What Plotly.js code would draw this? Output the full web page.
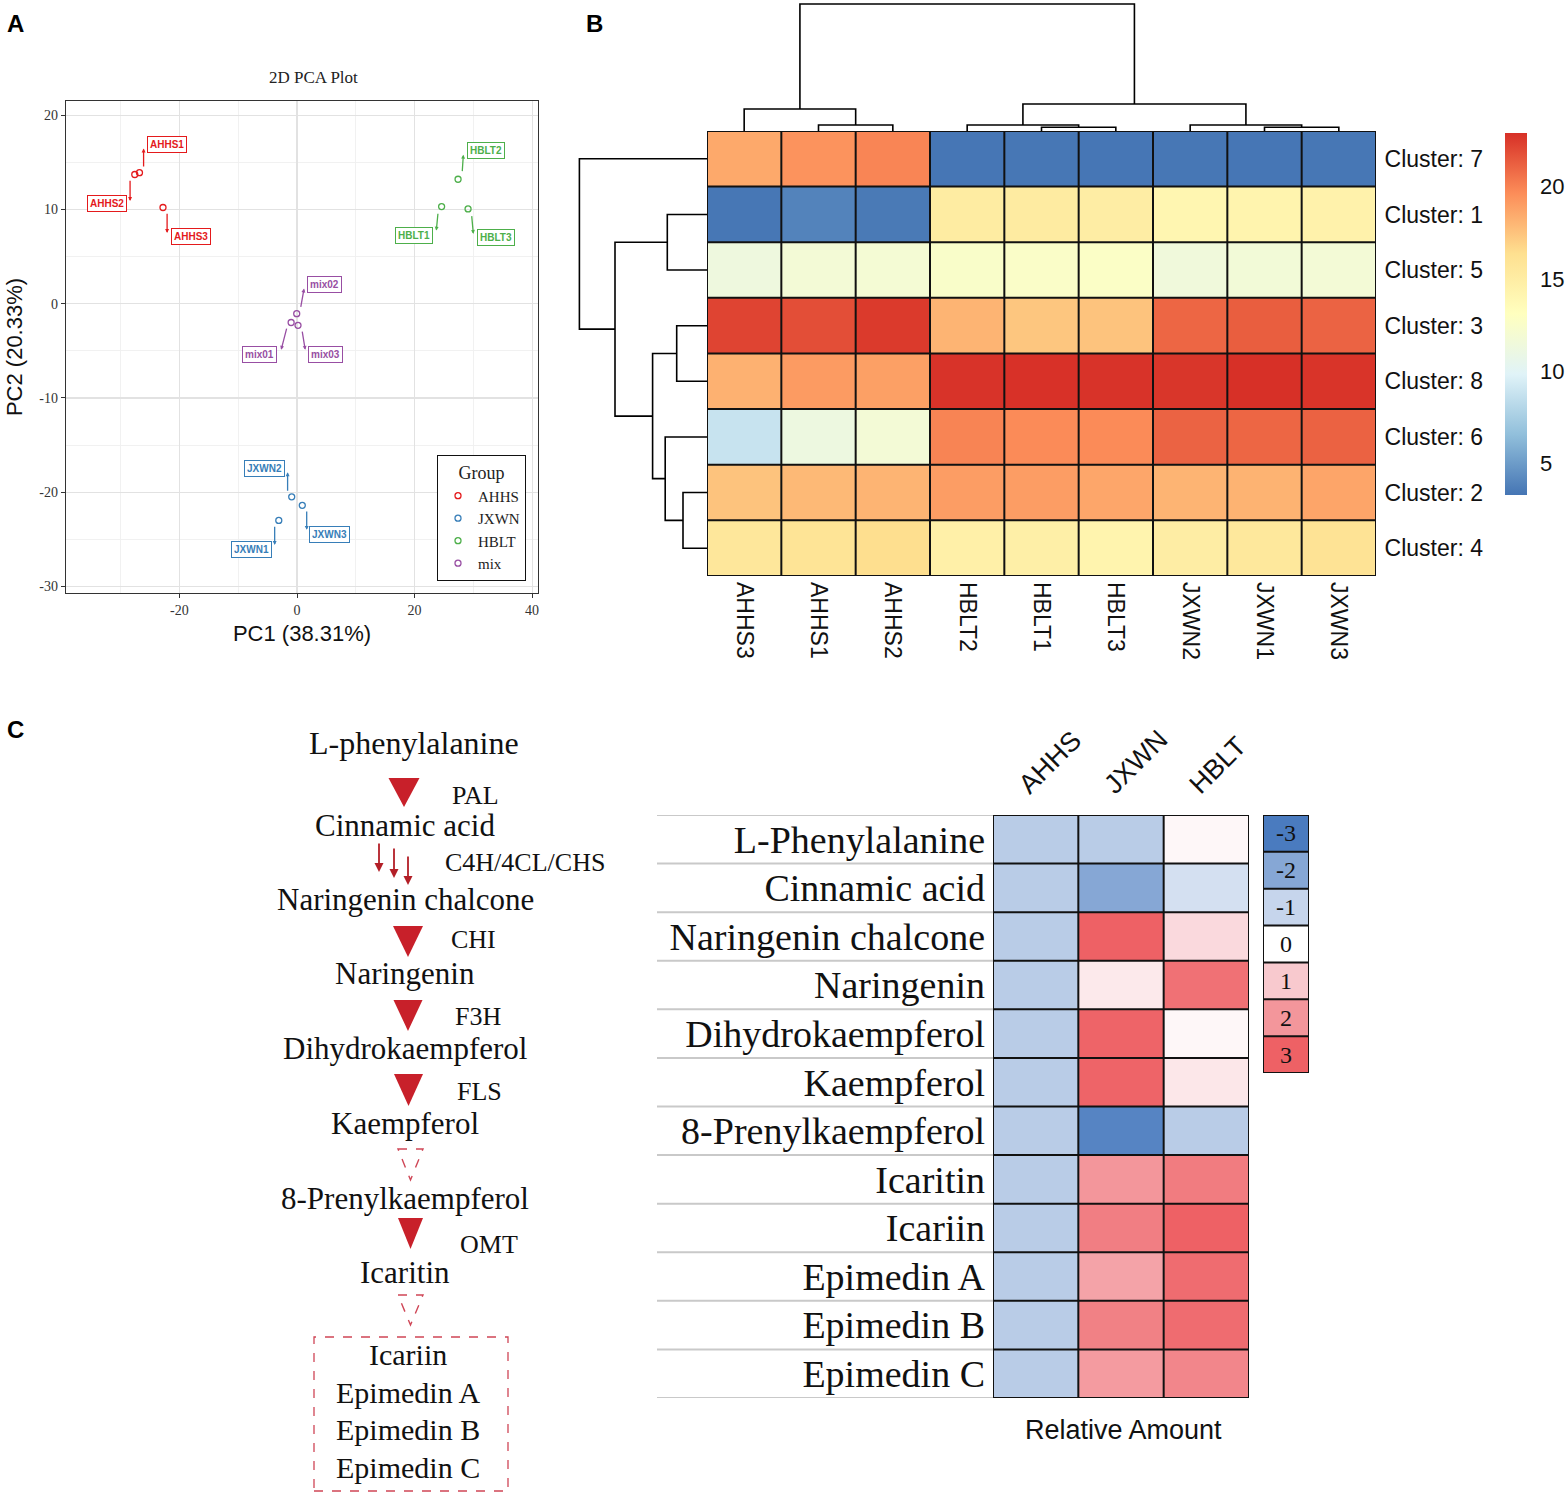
<!DOCTYPE html>
<html><head><meta charset="utf-8">
<script src="https://cdn.plot.ly/plotly-3.0.1.min.js"></script>
<style>html,body{margin:0;padding:0;background:#fff}#fig{width:1568px;height:1502px}</style>
</head><body><div id="fig"></div>
<script>
// ---------------- DATA ----------------
// Panel A: PCA scores
const pcaSamples = ['AHHS1','AHHS2','AHHS3','JXWN1','JXWN2','JXWN3','HBLT1','HBLT2','HBLT3','mix01','mix02','mix03'];
const pcaGroup   = ['AHHS','AHHS','AHHS','JXWN','JXWN','JXWN','HBLT','HBLT','HBLT','mix','mix','mix'];
const pc1 = [-26.8, -27.6, -22.8, -3.1, -0.9, 0.9, 24.6, 27.4, 29.1, -1.0, -0.05, 0.17];
const pc2 = [13.9, 13.7, 10.2, -23.0, -20.5, -21.4, 10.3, 13.2, 10.05, -2.0, -1.06, -2.3];
const groupNames  = ['AHHS','JXWN','HBLT','mix'];
const groupColors = ['#E41A1C','#377EB8','#4DAF4A','#984EA3'];
const pcaXTicks = [-20, 0, 20, 40];
const pcaYTicks = [20, 10, 0, -10, -20, -30];

// Panel B: cluster heatmap
const clusterSamples = ['AHHS3','AHHS1','AHHS2','HBLT2','HBLT1','HBLT3','JXWN2','JXWN1','JXWN3'];
const clusterLabels  = ['Cluster: 7','Cluster: 1','Cluster: 5','Cluster: 3','Cluster: 8','Cluster: 6','Cluster: 2','Cluster: 4'];
const cluster7 = [18.55, 19.4, 19.9, 3.35, 3.4, 3.35, 3.4, 3.35, 3.4];
const cluster1 = [3.4, 3.9, 3.5, 15.1, 15.2, 15.0, 14.1, 14.3, 14.5];
const cluster5 = [11.3, 11.8, 11.9, 12.5, 12.6, 12.7, 11.5, 11.7, 11.8];
const cluster3 = [22.2, 21.85, 22.55, 18.1, 17.4, 17.5, 21.0, 21.3, 21.1];
const cluster8 = [18.2, 19.1, 18.9, 22.8, 22.85, 22.8, 22.7, 22.9, 22.75];
const cluster6 = [8.8, 11.2, 11.8, 19.95, 19.7, 19.7, 21.1, 21.0, 21.15];
const cluster2 = [17.5, 17.9, 18.1, 19.0, 19.0, 18.65, 18.1, 18.15, 18.7];
const cluster4 = [15.6, 15.95, 16.4, 14.7, 14.75, 14.3, 15.0, 15.5, 16.0];
const clusterTicks = [5, 10, 15, 20];
// hclust-style merges (negative = leaf, 1-based; positive = earlier merge) and heights
const colMerge  = [[-2,-3],[-5,-6],[-8,-9],[-1,1],[-4,2],[-7,3],[5,6],[4,7]];
const colHeight = [6, 3.7, 3.7, 22, 6, 6, 27, 127];
const rowMerge  = [[-2,-3],[-4,-5],[-7,-8],[-6,3],[2,4],[1,5],[-1,6]];
const rowHeight = [39.7, 30.3, 24, 41.8, 54.4, 92, 127.6];

// Panel C: relative amount heatmap
const regions = ['AHHS','JXWN','HBLT'];
const metabolites = ['L-Phenylalanine','Cinnamic acid','Naringenin chalcone','Naringenin','Dihydrokaempferol','Kaempferol','8-Prenylkaempferol','Icaritin','Icariin','Epimedin A','Epimedin B','Epimedin C'];
const relAHHS = [-1.2,-1.2,-1.2,-1.2,-1.2,-1.2,-1.2,-1.2,-1.2,-1.2,-1.2,-1.2];
const relJXWN = [-1.2,-2.0,3.0,0.4,2.95,2.95,-2.8,2.0,2.45,1.75,2.4,1.9];
const relHBLT = [0.15,-0.75,0.7,2.7,0.15,0.45,-1.2,2.5,3.0,2.8,2.8,2.3];
const relLegend = [-3,-2,-1,0,1,2,3];

// Pathway text
const compounds = ['L-phenylalanine','Cinnamic acid','Naringenin chalcone','Naringenin','Dihydrokaempferol','Kaempferol','8-Prenylkaempferol','Icaritin'];
const enzymes = ['PAL','C4H/4CL/CHS','CHI','F3H','FLS','OMT'];
const endProducts = ['Icariin','Epimedin A','Epimedin B','Epimedin C'];

// ---------------- LAYOUT HELPERS ----------------
const W = 1568, H = 1502;
const X = p => p / W;
const Y = p => 1 - p / H;
const SERIF = 'Liberation Serif, Times New Roman, serif';
const SANS = 'Liberation Sans, Arial, Helvetica, sans-serif';

const traces = [];
const shapes = [];
const annotations = [];
function paperText(px, py, text, font, xanchor) {
  annotations.push({xref: 'paper', yref: 'paper', x: X(px), y: Y(py), text: text, showarrow: false,
    xanchor: xanchor || 'center', yanchor: 'middle', font: font});
}

// ---------------- PANEL A ----------------
groupNames.forEach((g, gi) => {
  const idx = pcaGroup.map((v, i) => v === g ? i : -1).filter(i => i >= 0);
  traces.push({
    type: 'scatter', mode: 'markers', name: g, xaxis: 'x', yaxis: 'y',
    x: idx.map(i => pc1[i]), y: idx.map(i => pc2[i]), text: idx.map(i => pcaSamples[i]),
    marker: {symbol: 'circle-open', size: 6, color: groupColors[gi], line: {width: 1.3, color: groupColors[gi]}},
    hoverinfo: 'text', showlegend: true
  });
});
// label placement (data units) and connector segments [x0,y0,x1,y1]
const labelPos = {
  AHHS1: [-22.1, 16.9], AHHS2: [-32.3, 10.6], AHHS3: [-18.0, 7.1],
  HBLT2: [32.1, 16.2], HBLT1: [19.9, 7.25], HBLT3: [33.8, 7.0],
  mix02: [4.7, 2.0], mix01: [-6.4, -5.4], mix03: [4.9, -5.4],
  JXWN2: [-5.6, -17.5], JXWN3: [5.6, -24.5], JXWN1: [-7.8, -26.1]
};
const segPos = {
  AHHS1: [-26.1, 14.4, -26.1, 16.45], AHHS2: [-28.4, 13.2, -28.4, 10.9], AHHS3: [-22.1, 9.7, -22.1, 7.5],
  HBLT2: [28.1, 13.9, 28.3, 15.8], HBLT1: [24.0, 9.7, 23.7, 7.75], HBLT3: [29.7, 9.45, 30.0, 7.4],
  mix02: [0.6, -0.5, 1.2, 1.6], mix01: [-1.7, -2.5, -2.7, -4.9], mix03: [0.85, -2.8, 1.4, -4.9],
  JXWN2: [-1.6, -20.0, -1.6, -17.9], JXWN3: [1.65, -21.9, 1.65, -24.0], JXWN1: [-3.8, -23.5, -3.8, -25.6]
};
pcaSamples.forEach((s, i) => {
  const col = groupColors[groupNames.indexOf(pcaGroup[i])];
  const sg = segPos[s];
  annotations.push({xref: 'x', yref: 'y', axref: 'x', ayref: 'y', x: sg[2], y: sg[3], ax: sg[0], ay: sg[1],
    text: '', showarrow: true, arrowhead: 2, arrowsize: 0.6, arrowwidth: 1.3, arrowcolor: col});
  annotations.push({xref: 'x', yref: 'y', x: labelPos[s][0], y: labelPos[s][1], text: s, showarrow: false,
    xanchor: 'center', yanchor: 'middle',
    font: {family: SANS, size: 10, color: col, weight: 'bold'}, bgcolor: '#fff', bordercolor: col,
    borderwidth: 1, borderpad: 2});
});
paperText(313, 77, '2D PCA Plot', {family: SERIF, size: 17, color: '#222'});

// ---------------- PANEL B ----------------
const clusterZ = [cluster7, cluster1, cluster5, cluster3, cluster8, cluster6, cluster2, cluster4];
const rdylbu = ['#4575B4','#91BFDB','#E0F3F8','#FFFFBF','#FEE090','#FC8D59','#D73027'];
traces.push({
  type: 'heatmap', xaxis: 'x2', yaxis: 'y2', showlegend: false,
  x: clusterSamples.map((_, i) => i), y: clusterLabels.map((_, i) => i), z: clusterZ,
  zmin: 3.3, zmax: 22.9,
  colorscale: rdylbu.map((c, i) => [i / (rdylbu.length - 1), c]),
  showscale: true, hoverinfo: 'z',
  colorbar: {x: X(1505), xanchor: 'left', xpad: 0, y: Y(133), yanchor: 'top', ypad: 0,
    len: 362, lenmode: 'pixels', thickness: 22, thicknessmode: 'pixels', outlinewidth: 0,
    tickvals: clusterTicks, ticktext: clusterTicks.map(String), ticks: 'outside', ticklen: 9,
    tickcolor: 'rgba(0,0,0,0)', tickfont: {family: SANS, size: 22, color: '#111'}}
});
function buildDendro(merge, height) {
  const pos = [], xs = [], hs = [];
  merge.forEach((m, k) => {
    const p = m.map(c => c < 0 ? -c - 1 : pos[c - 1]);
    const hh = m.map(c => c < 0 ? 0 : height[c - 1]);
    xs.push(p[0], p[0], p[1], p[1], null);
    hs.push(hh[0], height[k], height[k], hh[1], null);
    pos[k] = (p[0] + p[1]) / 2;
  });
  return {pos: xs, h: hs};
}
const colD = buildDendro(colMerge, colHeight);
const rowD = buildDendro(rowMerge, rowHeight);
traces.push({type: 'scatter', mode: 'lines', xaxis: 'x3', yaxis: 'y3', x: colD.pos, y: colD.h,
  line: {color: '#000', width: 1.6}, hoverinfo: 'skip', showlegend: false});
traces.push({type: 'scatter', mode: 'lines', xaxis: 'x4', yaxis: 'y4', x: rowD.h, y: rowD.pos,
  line: {color: '#000', width: 1.6}, hoverinfo: 'skip', showlegend: false});
for (let i = 0; i <= clusterSamples.length; i++)
  shapes.push({type: 'line', xref: 'x2', yref: 'y2', x0: i - 0.5, x1: i - 0.5, y0: -0.5, y1: clusterLabels.length - 0.5, line: {color: '#111', width: 2}});
for (let j = 0; j <= clusterLabels.length; j++)
  shapes.push({type: 'line', xref: 'x2', yref: 'y2', x0: -0.5, x1: clusterSamples.length - 0.5, y0: j - 0.5, y1: j - 0.5, line: {color: '#111', width: 2}});

// ---------------- PANEL C ----------------
const relStops = ['#4A7BBF','#86A7D5','#C6D5EC','#FFFFFF','#F8C9CE','#F3969B','#EE6165'];
const relScale = relStops.map((c, i) => [i / (relStops.length - 1), c]);
traces.push({
  type: 'heatmap', xaxis: 'x5', yaxis: 'y5', showlegend: false,
  x: regions.map((_, i) => i), y: metabolites.map((_, i) => i),
  z: metabolites.map((_, r) => [relAHHS[r], relJXWN[r], relHBLT[r]]),
  zmin: -3, zmax: 3, colorscale: relScale, showscale: false, hoverinfo: 'z'
});
traces.push({
  type: 'heatmap', xaxis: 'x6', yaxis: 'y6', showlegend: false, x: [0], y: relLegend.map((_, i) => i),
  z: relLegend.map(v => [v]), text: relLegend.map(v => [String(v)]), texttemplate: '%{text}',
  textfont: {family: SERIF, size: 24, color: '#111'},
  zmin: -3, zmax: 3, colorscale: relScale, showscale: false, hoverinfo: 'skip'
});
for (let j = 0; j <= metabolites.length; j++) {
  shapes.push({type: 'line', xref: 'paper', yref: 'y5', x0: X(657), x1: X(993), y0: j - 0.5, y1: j - 0.5, line: {color: '#C9C9C9', width: 2}});
  shapes.push({type: 'line', xref: 'x5', yref: 'y5', x0: -0.5, x1: regions.length - 0.5, y0: j - 0.5, y1: j - 0.5, line: {color: '#111', width: 2}});
}
for (let i = 0; i <= regions.length; i++)
  shapes.push({type: 'line', xref: 'x5', yref: 'y5', x0: i - 0.5, x1: i - 0.5, y0: -0.5, y1: metabolites.length - 0.5, line: {color: '#111', width: 2}});
for (let j = 0; j <= relLegend.length; j++)
  shapes.push({type: 'line', xref: 'x6', yref: 'y6', x0: -0.5, x1: 0.5, y0: j - 0.5, y1: j - 0.5, line: {color: '#111', width: 2}});
[-0.5, 0.5].forEach(xv => shapes.push({type: 'line', xref: 'x6', yref: 'y6', x0: xv, x1: xv, y0: -0.5, y1: relLegend.length - 0.5, line: {color: '#111', width: 2}}));
paperText(1123, 1430, 'Relative Amount', {family: SANS, size: 27, color: '#111'});

// Pathway (panel C, left)
const compoundPos = [[414, 743, 32], [405, 825, 31], [405, 899, 31], [405, 973, 31], [405, 1048, 31], [405, 1123, 31], [405, 1198, 31], [405, 1272, 31]];
compounds.forEach((c, i) => paperText(compoundPos[i][0], compoundPos[i][1], c, {family: SERIF, size: compoundPos[i][2], color: '#111'}));
const enzymePos = [[450, 795], [443, 862], [449, 940], [453, 1016], [455, 1091], [458, 1244]];
enzymes.forEach((e, i) => paperText(enzymePos[i][0], enzymePos[i][1], e, {family: SERIF, size: 26, color: '#111'}, 'left'));
const endPos = [1354, 1392, 1429, 1467];
endProducts.forEach((e, i) => paperText(408, endPos[i], e, {family: SERIF, size: 30, color: '#111'}));
// triangles: [cx, top, width, height, filled]
const tris = [[404, 778, 31, 29, true], [408, 926, 30, 31, true], [408, 1000, 29, 31, true], [408.5, 1074, 29, 32, true],
  [410.5, 1149, 25, 31, false], [410.5, 1218, 25, 31, true], [410.5, 1295, 25, 30, false]];
tris.forEach(t => {
  const [cx, top, w, h, filled] = t;
  shapes.push({type: 'path', xref: 'paper', yref: 'paper',
    path: `M ${X(cx - w / 2)} ${Y(top)} L ${X(cx + w / 2)} ${Y(top)} L ${X(cx)} ${Y(top + h)} Z`,
    fillcolor: filled ? '#C8202A' : 'rgba(0,0,0,0)',
    line: filled ? {width: 0} : {color: '#CF4656', width: 1.4, dash: 'dash'}});
});
[[379, 872, 30], [394, 878, 31], [408, 885, 30]].forEach(a => annotations.push({xref: 'paper', yref: 'paper',
  x: X(a[0]), y: Y(a[1]), ax: 0, ay: -a[2], text: '', showarrow: true, arrowhead: 2, arrowsize: 1, arrowwidth: 1.8, arrowcolor: '#B31F27'}));
shapes.push({type: 'rect', xref: 'paper', yref: 'paper', x0: X(314), x1: X(508), y0: Y(1491), y1: Y(1337),
  line: {color: '#CF4656', width: 1.3, dash: 'dash'}, fillcolor: 'rgba(0,0,0,0)'});

// Panel letters
[['A', 16, 24], ['B', 594, 24], ['C', 16, 730]].forEach(p => paperText(p[1], p[2], p[0], {family: SANS, size: 24, color: '#000', weight: 'bold'}));

// ---------------- LAYOUT ----------------
const hidden = {visible: false, showgrid: false, zeroline: false, fixedrange: true};
const layout = {
  width: W, height: H, margin: {l: 0, r: 0, t: 0, b: 0},
  paper_bgcolor: '#fff', plot_bgcolor: '#fff', showlegend: true,
  xaxis: {domain: [X(66), X(538)], range: [-39.3, 41.0], anchor: 'y',
    tickvals: pcaXTicks, ticktext: pcaXTicks.map(String), tickfont: {family: SERIF, size: 14, color: '#333'},
    ticks: 'outside', ticklen: 4, tickcolor: '#333', showgrid: true, gridcolor: '#E2E2E2', gridwidth: 1.2,
    minor: {dtick: 10, tick0: 0, showgrid: true, gridcolor: '#EFEFEF', gridwidth: 0.9},
    zeroline: false, showline: true, mirror: true, linecolor: '#333', linewidth: 1.3,
    title: {text: 'PC1 (38.31%)', font: {family: SANS, size: 22, color: '#111'}, standoff: 8}},
  yaxis: {domain: [Y(593), Y(101)], range: [-30.7, 21.5], anchor: 'x',
    tickvals: pcaYTicks, ticktext: pcaYTicks.map(String), tickfont: {family: SERIF, size: 14, color: '#333'},
    ticks: 'outside', ticklen: 4, tickcolor: '#333', showgrid: true, gridcolor: '#E2E2E2', gridwidth: 1.2,
    minor: {dtick: 5, tick0: 0, showgrid: true, gridcolor: '#EFEFEF', gridwidth: 0.9},
    zeroline: false, showline: true, mirror: true, linecolor: '#333', linewidth: 1.3,
    title: {text: 'PC2 (20.33%)', font: {family: SANS, size: 22, color: '#111'}, standoff: 10}},
  xaxis2: {domain: [X(707), X(1376)], range: [-0.5, clusterSamples.length - 0.5], anchor: 'y2',
    tickvals: clusterSamples.map((_, i) => i), ticktext: clusterSamples, tickangle: 90,
    tickfont: {family: SANS, size: 23, color: '#111'}, ticks: '', ticklabelstandoff: 5,
    showgrid: false, zeroline: false, showline: false},
  yaxis2: {domain: [Y(576), Y(131)], range: [clusterLabels.length - 0.5, -0.5], anchor: 'x2', side: 'right',
    tickvals: clusterLabels.map((_, i) => i), ticktext: clusterLabels,
    tickfont: {family: SANS, size: 23, color: '#111'}, ticks: 'outside', ticklen: 3, tickcolor: 'rgba(0,0,0,0)',
    showgrid: false, zeroline: false, showline: false},
  xaxis3: Object.assign({}, hidden, {domain: [X(707), X(1376)], range: [-0.5, clusterSamples.length - 0.5], anchor: 'y3'}),
  yaxis3: Object.assign({}, hidden, {domain: [Y(131), 1], range: [0, 131], anchor: 'x3'}),
  xaxis4: Object.assign({}, hidden, {domain: [X(570), X(707)], range: [137, 0], anchor: 'y4'}),
  yaxis4: Object.assign({}, hidden, {domain: [Y(576), Y(131)], range: [clusterLabels.length - 0.5, -0.5], anchor: 'x4'}),
  xaxis5: {domain: [X(993), X(1249)], range: [-0.5, regions.length - 0.5], anchor: 'y5', side: 'top',
    tickvals: regions.map((_, i) => i - 0.18), ticktext: regions, tickangle: -45,
    tickfont: {family: SANS, size: 27, color: '#111'}, ticks: 'outside', ticklen: 4, tickcolor: 'rgba(0,0,0,0)',
    showgrid: false, zeroline: false, showline: false},
  yaxis5: {domain: [Y(1398), Y(815)], range: [metabolites.length - 0.5, -0.5], anchor: 'x5',
    tickvals: metabolites.map((_, i) => i), ticktext: metabolites,
    tickfont: {family: SERIF, size: 38, color: '#111'}, ticks: '', ticklabelstandoff: 7,
    showgrid: false, zeroline: false, showline: false},
  xaxis6: Object.assign({}, hidden, {domain: [X(1263), X(1309)], range: [-0.5, 0.5], anchor: 'y6'}),
  yaxis6: Object.assign({}, hidden, {domain: [Y(1073), Y(815)], range: [relLegend.length - 0.5, -0.5], anchor: 'x6'}),
  legend: {x: X(437), y: Y(455), xanchor: 'left', yanchor: 'top', bgcolor: '#fff', bordercolor: '#111', borderwidth: 1,
    font: {family: SERIF, size: 15, color: '#222'}, itemwidth: 30, tracegroupgap: 0,
    title: {text: 'Group', side: 'top center', font: {family: SERIF, size: 18, color: '#222'}}},
  shapes: shapes, annotations: annotations
};
Plotly.newPlot('fig', traces, layout, {displayModeBar: false, staticPlot: true});
</script></body></html>
